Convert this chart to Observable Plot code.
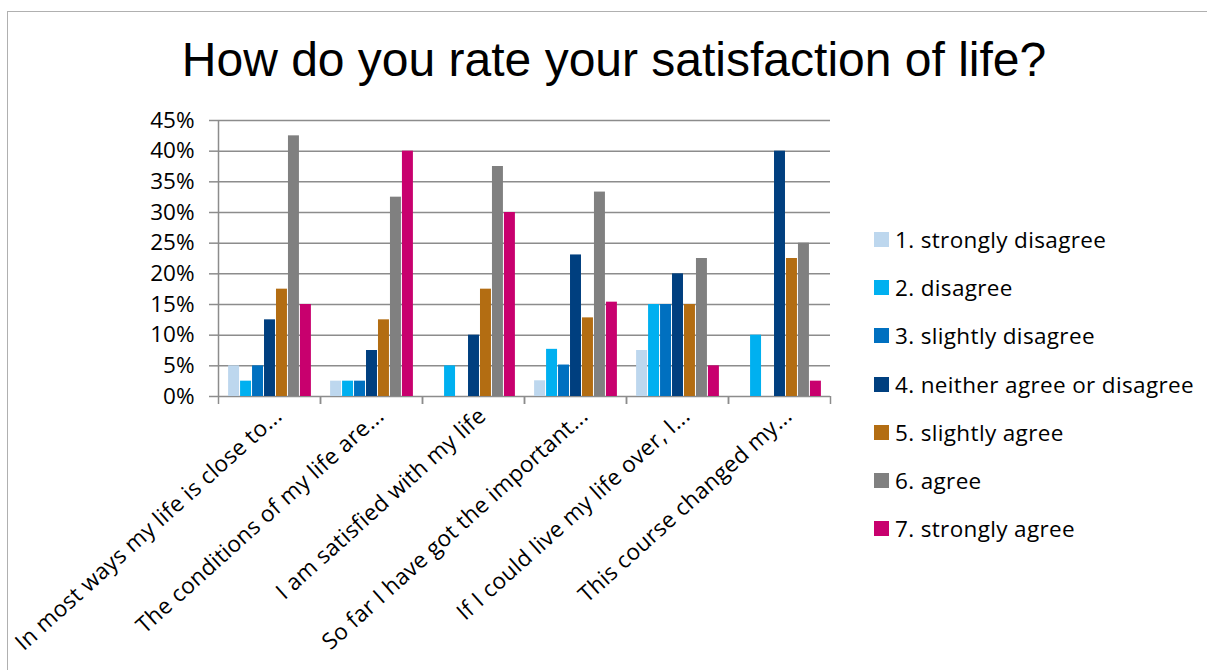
<!DOCTYPE html>
<html>
<head>
<meta charset="utf-8">
<script src="https://cdn.jsdelivr.net/npm/d3@7"></script>
<script src="https://cdn.jsdelivr.net/npm/@observablehq/plot@0.6"></script>
<style>
  body { margin: 0; background: #fff; }
  #wrap { position: relative; width: 1207px; height: 670px; overflow: hidden; background: #fff; font-family: "Open Sans", sans-serif; }
  #border { position: absolute; left: 7px; top: 11px; width: 1400px; height: 900px; border-left: 1px solid #b0b0b0; border-top: 1px solid #b0b0b0; }
  #title { position: absolute; left: 0; width: 1228px; top: 36px; text-align: center; font-family: "Liberation Sans", Arial, sans-serif; font-size: 48px; line-height: 48px; color: #000; white-space: nowrap; }
  #plot { position: absolute; left: 0; top: 0; }
  #legend { position: absolute; left: 874px; top: 215px; }
  .item { height: 48.3px; display: flex; align-items: center; font-size: 22.5px; letter-spacing: 0.35px; color: #000; white-space: nowrap; }
  .sw { width: 15px; height: 15px; margin-right: 6px; flex: none; }
  #plot svg g[aria-label="fx-axis tick label"] text { letter-spacing: 0.3px; }
</style>
</head>
<body>
<div id="wrap">
  <div id="border"></div>
  <div id="title">How do you rate your satisfaction of life?</div>
  <div id="plot"></div>
  <div id="legend"></div>
</div>
<script>
const categories = [
  "In most ways my life is close to...",
  "The conditions of my life are...",
  "I am satisfied with my life",
  "So far I have got the important...",
  "If I could live my life over, I...",
  "This course changed my..."
];
const series = [
  "1. strongly disagree",
  "2. disagree",
  "3. slightly disagree",
  "4. neither agree or disagree",
  "5. slightly agree",
  "6. agree",
  "7. strongly agree"
];
const colors = ["#bdd7ee", "#00b0f0", "#0070c0", "#003f7f", "#b36d12", "#808080", "#c8006e"];

// values per series, one per category
const s1 = [0.05,  0.025, 0,     0.0256, 0.075, 0];
const s2 = [0.025, 0.025, 0.05,  0.0769, 0.15,  0.10];
const s3 = [0.05,  0.025, 0,     0.0513, 0.15,  0];
const s4 = [0.125, 0.075, 0.10,  0.2308, 0.20,  0.40];
const s5 = [0.175, 0.125, 0.175, 0.1282, 0.15,  0.225];
const s6 = [0.425, 0.325, 0.375, 0.3333, 0.225, 0.25];
const s7 = [0.15,  0.40,  0.30,  0.1538, 0.05,  0.025];

const yTicks = [0, 0.05, 0.10, 0.15, 0.20, 0.25, 0.30, 0.35, 0.40, 0.45];

const seriesValues = [s1, s2, s3, s4, s5, s6, s7];
const data = [];
seriesValues.forEach((vals, si) => {
  vals.forEach((v, ci) => {
    data.push({category: categories[ci], series: series[si], index: si, value: v});
  });
});

// inner x: series index, with outer padding so groups have gaps
const pad = 0.76;
const xDomain = [-pad, series.length + pad];

const gridColor = "#8c8c8c";

const chart = Plot.plot({
  width: 1207,
  height: 670,
  marginLeft: 217,
  marginRight: 376,
  marginTop: 120,
  marginBottom: 274,
  style: {fontFamily: "'Open Sans', sans-serif", color: "#000", background: "transparent"},
  fx: {domain: categories, padding: 0, label: null},
  x: {domain: xDomain, axis: null},
  y: {domain: [0, 0.45], axis: null, label: null},
  color: {domain: series, range: colors},
  marks: [
    Plot.gridY(yTicks, {stroke: gridColor, strokeOpacity: 1, strokeWidth: 1.5}),
    Plot.rectY(data, {fx: "category", x: "index", interval: 1, y: "value", fill: "series"}),
    Plot.axisY(yTicks, {
      tickFormat: d3.format(".0%"), tickSize: 9, tickPadding: 15,
      fontSize: 22.5, stroke: gridColor, strokeWidth: 1.5, label: null
    }),
    // vertical axis line on the left facet only
    Plot.ruleX([{category: categories[0], x: xDomain[0]}], {fx: "category", x: "x", y1: 0, y2: 0.45, stroke: gridColor, strokeWidth: 1.5}),
    // category boundary ticks below baseline
    Plot.ruleX([xDomain[0], xDomain[1]], {y1: 0, y2: 0, insetBottom: -8, stroke: gridColor, strokeWidth: 1.5}),
    Plot.axisFx({
      anchor: "bottom", tickRotate: -42, tickSize: 0, tickPadding: 16,
      fontSize: 22.5, label: null, dx: 9
    })
  ]
});
document.getElementById("plot").appendChild(chart);

const legend = document.getElementById("legend");
series.forEach((s, i) => {
  const row = document.createElement("div");
  row.className = "item";
  const sw = document.createElement("span");
  sw.className = "sw";
  sw.style.background = colors[i];
  const t = document.createElement("span");
  t.textContent = s;
  row.appendChild(sw);
  row.appendChild(t);
  legend.appendChild(row);
});
</script>
</body>
</html>
